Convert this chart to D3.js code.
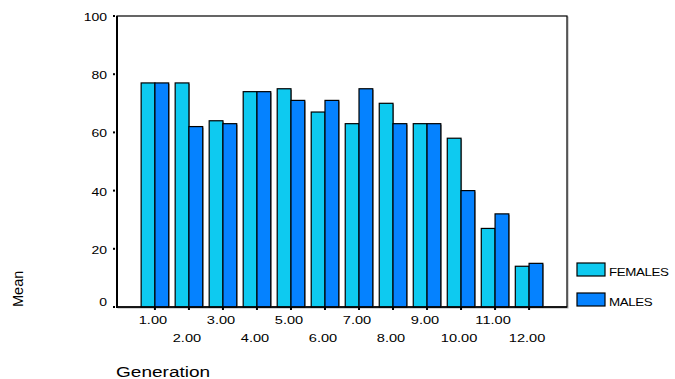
<!DOCTYPE html>
<html><head><meta charset="utf-8">
<script src="https://cdn.jsdelivr.net/npm/d3@7"></script>
<style>body{margin:0;background:#fff}svg{display:block}text{font-family:"Liberation Sans",Arial,sans-serif;fill:#000}</style>
</head><body>
<script>
const categories = ["1.00","2.00","3.00","4.00","5.00","6.00","7.00","8.00","9.00","10.00","11.00","12.00"];
const seriesNames = ["FEMALES","MALES"];
const females = [77,77,64,74,75,67,63,70,63,58,27,14];
const males   = [77,62,63,74,71,71,75,63,63,40,32,15];
const yTicks = [0,20,40,60,80,100];
const colors = ["#0ECAF0","#0582FF"];

const W=675,H=379, SX=1.27;
const plot={l:117,t:16,r:567,b:307};
const svg=d3.select("body").append("svg").attr("width",W).attr("height",H);

const x=d3.scaleBand().domain(categories).range([plot.l,plot.r]).paddingInner(0.19).paddingOuter(0.71);
const xs=d3.scaleBand().domain(seriesNames).range([0,x.bandwidth()]);
const y=d3.scaleLinear().domain([0,100]).range([plot.b,plot.t]);

function stext(g,xp,yp,str,anchor,size){
  const gg=g.append("g").attr("transform",`translate(${xp},${yp}) scale(${SX},1)`);
  gg.append("text").attr("text-anchor",anchor).attr("font-size",size).text(str);
  return gg;
}

// frame (shadow + line)
svg.append("rect").attr("x",plot.l+1).attr("y",plot.t+1).attr("width",plot.r-plot.l).attr("height",plot.b-plot.t)
  .attr("fill","none").attr("stroke","#aaa").attr("stroke-width",1);
svg.append("rect").attr("x",plot.l).attr("y",plot.t).attr("width",plot.r-plot.l).attr("height",plot.b-plot.t)
  .attr("fill","#fff").attr("stroke","#000").attr("stroke-width",1.2);

// bars
const data=categories.map((c,i)=>({c,vals:[females[i],males[i]]}));
const grp=svg.append("g").selectAll("g").data(data).join("g").attr("transform",d=>`translate(${x(d.c)},0)`);
grp.selectAll("rect.sh").data(d=>d.vals.map((v,j)=>({v,j}))).join("rect")
  .attr("x",d=>xs(seriesNames[d.j])+1).attr("y",d=>y(d.v)+1)
  .attr("width",xs.bandwidth()).attr("height",d=>plot.b-y(d.v)-1).attr("fill","#999");
grp.selectAll("rect.b").data(d=>d.vals.map((v,j)=>({v,j}))).join("rect")
  .attr("x",d=>xs(seriesNames[d.j])).attr("y",d=>y(d.v))
  .attr("width",xs.bandwidth()).attr("height",d=>plot.b-y(d.v))
  .attr("fill",d=>colors[d.j]).attr("stroke","#000").attr("stroke-width",1.2);

// axes lines
svg.append("line").attr("x1",plot.l).attr("x2",plot.l).attr("y1",plot.t).attr("y2",plot.b+1).attr("stroke","#000").attr("stroke-width",2);
svg.append("line").attr("x1",plot.l).attr("x2",plot.r).attr("y1",plot.b).attr("y2",plot.b).attr("stroke","#000").attr("stroke-width",1.5);

// y ticks
const yg=svg.append("g");
yTicks.forEach(t=>{
  yg.append("rect").attr("x",plot.l-4).attr("y",y(t)-1).attr("width",2).attr("height",2).attr("fill","#000");
  const yy = t===0 ? y(t)-1 : y(t)+5;
  stext(yg,plot.l-10,yy,String(t),"end","11px");
});

// x ticks
const xg=svg.append("g");
categories.forEach((c,i)=>{
  const cx=x(c)+x.bandwidth()/2;
  xg.append("rect").attr("x",cx-1).attr("y",plot.b).attr("width",2).attr("height",3).attr("fill","#000");
  stext(xg,cx-2,i%2===0?324:342,c,"middle","11.5px");
});

// axis titles
stext(svg,116,377,"Generation","start","15px").select("text").attr("text-anchor","start");
svg.append("text").attr("transform","translate(23,307) rotate(-90)").attr("font-size","14.5px").text("Mean");

// legend
const lg=svg.append("g");
seriesNames.forEach((s,i)=>{
  const yy=263+i*30;
  lg.append("rect").attr("x",577).attr("y",yy).attr("width",28).attr("height",13)
    .attr("fill",colors[i]).attr("stroke","#000").attr("stroke-width",1.2);
  stext(lg,609,yy+13,s,"start","10.5px").select("text").attr("letter-spacing","-0.3px");
});
</script>
</body></html>
